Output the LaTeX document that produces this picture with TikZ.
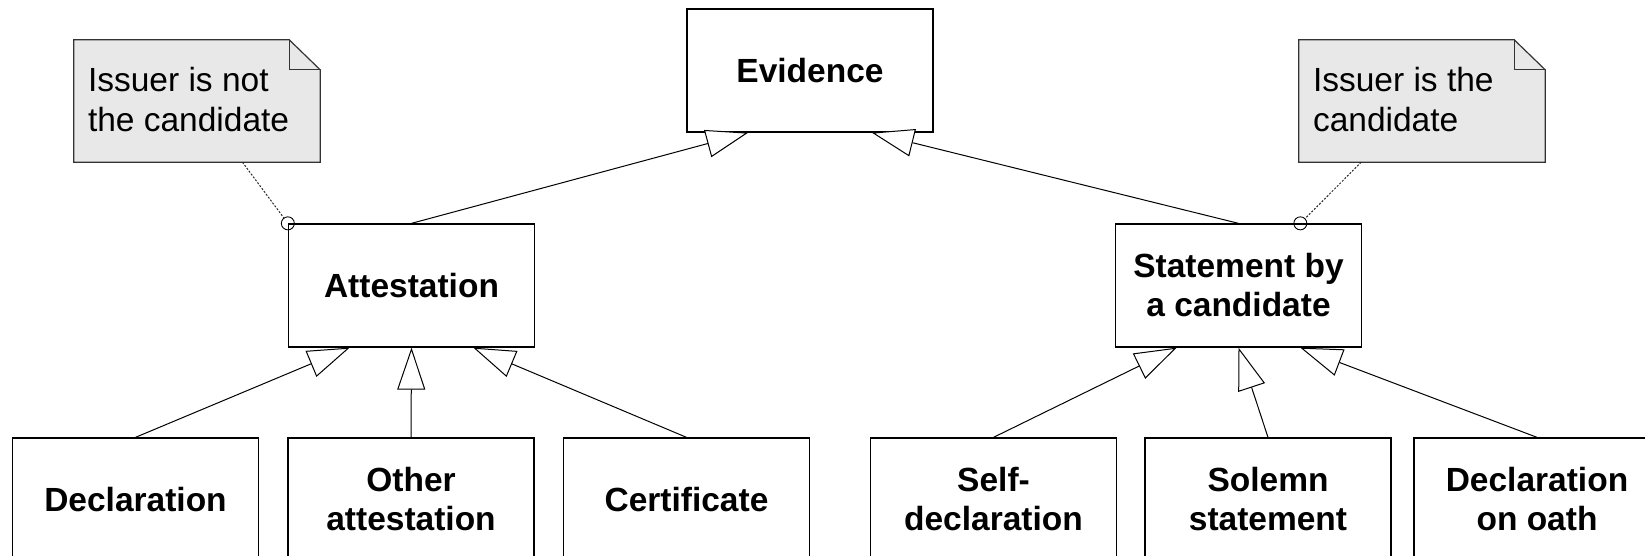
\documentclass[tikz,border=0pt]{standalone}
\usepackage{fontspec}
\setmainfont{Liberation Sans}
\usetikzlibrary{arrows.meta,calc}
\definecolor{notegray}{HTML}{E8E8E8}
\begin{document}
\begin{tikzpicture}[x=1pt,y=-1pt,
  cls/.style={draw=black, line width=1.3pt, minimum width=246pt, minimum height=123pt, inner sep=0pt, align=center, font=\fontsize{33.5}{39}\selectfont\bfseries},
  gen/.style={draw=black, line width=1pt, -{Triangle[open,fill=white,length=42pt,width=28pt]}},
  notebox/.style={minimum width=246pt, minimum height=122pt, inner sep=0pt},
  notetext/.style={anchor=north west, inner sep=0pt, align=left, font=\fontsize{33.5}{40}\selectfont},
  notebord/.style={draw=black!80, line width=1.2pt},
  anchorring/.style={circle, draw=black, line width=0.9pt, minimum size=13pt, inner sep=0pt},
  notelink/.style={draw=black!85, line width=1pt, dash pattern=on 2pt off 1.6pt}
]
\useasboundingbox (0,0) rectangle (1645,556);
\clip (0,0) rectangle (1645,556);

% classes
\node[cls] (ev)   at (810,70.5)    {Evidence};
\node[cls] (att)  at (411.5,285.5) {Attestation};
\node[cls] (stm)  at (1238.5,285.5) {Statement by\\a candidate};
\node[cls] (decl) at (135.5,499.5) {Declaration};
\node[cls] (oth)  at (411,499.5)   {Other\\attestation};
\node[cls] (cert) at (686.5,499.5) {Certificate};
\node[cls] (self) at (993.5,499.5) {Self-\\declaration};
\node[cls] (sol)  at (1268,499.5)  {Solemn\\statement};
\node[cls] (oath) at (1537,499.5)  {Declaration\\on oath};

% notes
\node[notebox] (n1) at (197,101) {};
\node[notebox] (n2) at (1422,101) {};
\foreach \n in {n1,n2}{
  \path[notebord, fill=notegray] (\n.north west) -- ([xshift=-31pt]\n.north east) -- ([yshift=-30pt]\n.north east) -- (\n.south east) -- (\n.south west) -- cycle;
  \draw[notebord] ([xshift=-31pt]\n.north east) -- ([xshift=-31pt,yshift=-30pt]\n.north east) -- ([yshift=-30pt]\n.north east);
}
\node[notetext] (t1) at ([xshift=14pt,yshift=-27.5pt]n1.north west) {Issuer is not\\the candidate};
\node[notetext] (t2) at ([xshift=14pt,yshift=-27.5pt]n2.north west) {Issuer is the\\candidate};

% note anchors
\node[anchorring] (c1) at (att.north west) {};
\node[anchorring] (c2) at ($(stm.north west)!0.75!(stm.north east)$) {};
\draw[notelink] (n1) -- (c1);
\draw[notelink] (n2) -- (c2);

% generalizations
\draw[gen] (att.north) -- ($(ev.south west)!0.25!(ev.south east)$);
\draw[gen] (stm.north) -- ($(ev.south west)!0.75!(ev.south east)$);
\draw[gen] (decl.north) -- ($(att.south west)!0.25!(att.south east)$);
\draw[gen] (oth.north) -- (att.south);
\draw[gen] (cert.north) -- ($(att.south west)!0.75!(att.south east)$);
\draw[gen] (self.north) -- ($(stm.south west)!0.25!(stm.south east)$);
\draw[gen] (sol.north) -- (stm.south);
\draw[gen] (oath.north) -- ($(stm.south west)!0.75!(stm.south east)$);
\end{tikzpicture}
\end{document}
